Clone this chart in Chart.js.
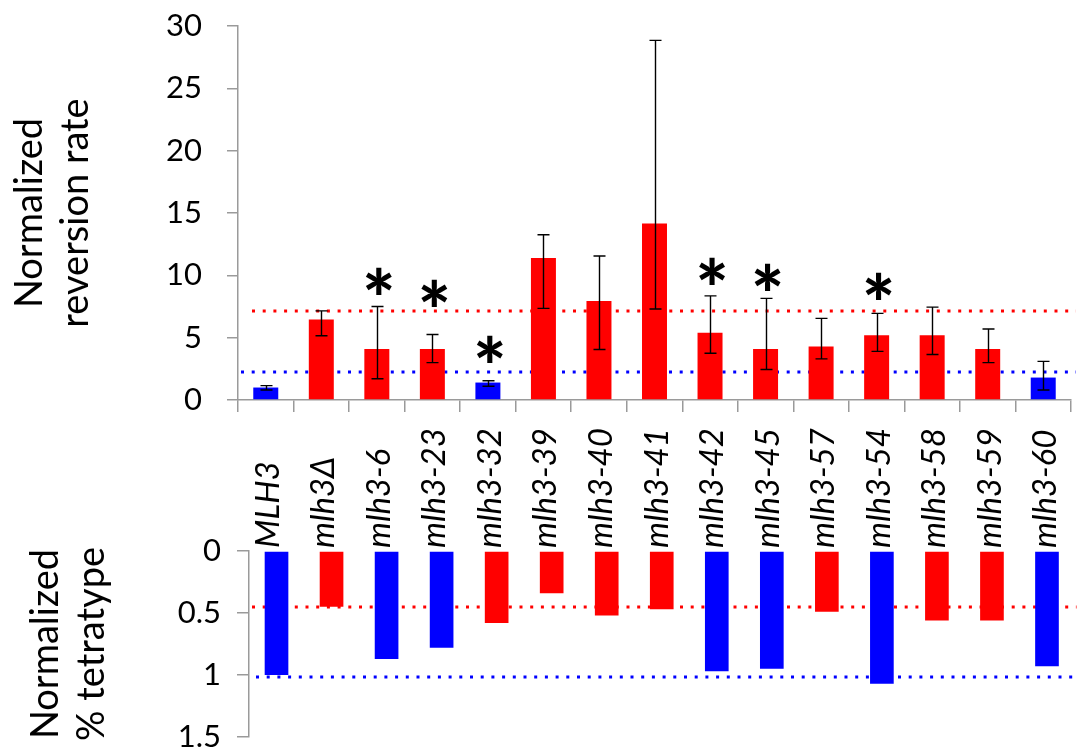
<!DOCTYPE html>
<html>
<head>
<meta charset="utf-8">
<title>MLH3 alleles: reversion rate and tetratype</title>
<script src="https://cdn.jsdelivr.net/npm/chart.js@4/dist/chart.umd.min.js"></script>
<style>
  html, body { margin: 0; padding: 0; background: #fff; overflow: hidden; }
  #page { position: relative; width: 1083px; height: 751px; overflow: hidden; background: #fff; }
  #topWrap { position: absolute; left: 0; top: 0; width: 1083px; height: 560px; }
  #botWrap { position: absolute; left: 0; top: 420px; width: 1083px; height: 360px; }
</style>
</head>
<body>
<div id="page">
  <div id="topWrap"><canvas id="revChart" width="1083" height="560"></canvas></div>
  <div id="botWrap"><canvas id="tetChart" width="1083" height="360"></canvas></div>
</div>
<script>
// Alleles, in plotting order
const alleles = ['MLH3', 'mlh3\u0394', 'mlh3-6', 'mlh3-23', 'mlh3-32', 'mlh3-39', 'mlh3-40',
  'mlh3-41', 'mlh3-42', 'mlh3-45', 'mlh3-57', 'mlh3-54', 'mlh3-58', 'mlh3-59', 'mlh3-60'];

// Normalized reversion rate with lower / upper error limits
const reversionRate = [1.0, 6.45, 4.1, 4.1, 1.4, 11.4, 7.95, 14.15, 5.4, 4.1, 4.3, 5.2, 5.2, 4.1, 1.8];
const reversionLow  = [0.8, 5.15, 1.7, 3.0, 1.1, 7.35, 4.05, 7.3, 3.75, 2.45, 3.3, 3.9, 3.65, 3.0, 0.8];
const reversionHigh = [1.15, 7.15, 7.5, 5.25, 1.55, 13.25, 11.55, 28.85, 8.35, 8.15, 6.55, 6.95, 7.45, 5.7, 3.1];

// Height of the significance star (in reversion-rate units), null where not significant
const significance = [null, null, 9.55, 8.6, 4.1, null, null, null, 10.35, 9.85, null, 9.15, null, null, null];

// Normalized % tetratype
const tetratype = [1.0, 0.45, 0.87, 0.78, 0.58, 0.34, 0.52, 0.47, 0.97, 0.95, 0.49, 1.07, 0.56, 0.56, 0.93];

// Phenotype class of each allele in each assay ('wt' = wild-type like, 'mut' = mutant like)
const mmrClass = ['wt', 'mut', 'mut', 'mut', 'wt', 'mut', 'mut', 'mut', 'mut', 'mut', 'mut', 'mut', 'mut', 'mut', 'wt'];
const crossoverClass = ['wt', 'mut', 'wt', 'wt', 'mut', 'mut', 'mut', 'mut', 'wt', 'wt', 'mut', 'wt', 'mut', 'mut', 'wt'];

// Reference levels (dotted lines)
const reversionRefMut = 7.14;
const reversionRefWt = 2.25;
const tetratypeRefMut = 0.45;
const tetratypeRefWt = 1.02;

// Axis ticks
const reversionTicks = { min: 0, max: 30, step: 5 };
const tetratypeTicks = { min: 0, max: 1.5, step: 0.5 };

const classColor = { wt: '#0000ff', mut: '#ff0000' };
const axisGray = '#9a9a9a';
const FONT = 'Lato, "Open Sans", "Liberation Sans", sans-serif';

function dottedLine(ctx, x0, x1, y, color) {
  ctx.save();
  ctx.strokeStyle = color;
  ctx.lineWidth = 3;
  ctx.setLineDash([3, 7.7]);
  ctx.beginPath();
  ctx.moveTo(x0, y);
  ctx.lineTo(x1, y);
  ctx.stroke();
  ctx.restore();
}

// Dotted reference lines behind the bars
const refLines = {
  id: 'refLines',
  beforeDatasetsDraw(chart, args, opts) {
    const { ctx, chartArea } = chart;
    const y = chart.scales.y;
    opts.lines.forEach(l => {
      dottedLine(ctx, chartArea.left + l.startInset, chartArea.right + l.endOverrun,
        Math.round(y.getPixelForValue(l.value)), l.color);
    });
  }
};

// Error bars and significance stars on the reversion chart
const errorBars = {
  id: 'errorBars',
  afterDatasetsDraw(chart) {
    const { ctx } = chart;
    const y = chart.scales.y;
    const meta = chart.getDatasetMeta(0);
    ctx.save();
    ctx.strokeStyle = '#000';
    ctx.lineWidth = 1.4;
    meta.data.forEach((bar, i) => {
      const x = Math.round(bar.x) + 0.5;
      const hi = y.getPixelForValue(reversionHigh[i]);
      const lo = y.getPixelForValue(reversionLow[i]);
      ctx.beginPath();
      ctx.moveTo(x, hi); ctx.lineTo(x, lo);
      ctx.moveTo(x - 6, hi); ctx.lineTo(x + 6, hi);
      ctx.moveTo(x - 6, lo); ctx.lineTo(x + 6, lo);
      ctx.stroke();
    });
    ctx.fillStyle = '#000';
    ctx.font = '900 78px ' + FONT;
    ctx.textAlign = 'center';
    ctx.textBaseline = 'alphabetic';
    const m = ctx.measureText('*');
    const glyphMid = (m.actualBoundingBoxAscent - m.actualBoundingBoxDescent) / 2;
    meta.data.forEach((bar, i) => {
      if (significance[i] === null) return;
      const cy = y.getPixelForValue(significance[i]);
      ctx.fillText('*', bar.x + 2, cy + glyphMid);
    });
    ctx.restore();
  }
};

// Allele names, rotated, standing below the reversion chart
const alleleLabels = {
  id: 'alleleLabels',
  afterDraw(chart, args, opts) {
    const { ctx } = chart;
    const xs = chart.scales.x;
    ctx.save();
    ctx.font = 'italic ' + opts.size + 'px ' + FONT;
    ctx.fillStyle = '#000';
    ctx.textAlign = 'left';
    ctx.textBaseline = 'alphabetic';
    const capHalf = ctx.measureText('h').actualBoundingBoxAscent / 2;
    alleles.forEach((lab, i) => {
      ctx.save();
      ctx.translate(xs.getPixelForValue(i) + 1 + capHalf, opts.startY);
      ctx.rotate(-Math.PI / 2);
      ctx.fillText(lab, 0, 0);
      ctx.restore();
    });
    ctx.restore();
  }
};

// The value axes keep the plot area exactly where the layout padding puts it
function fixVerticalAxis(width) {
  return function (scale) {
    scale.width = width;
    scale.paddingTop = 0;
    scale.paddingBottom = 0;
  };
}

Chart.defaults.font.family = FONT;
Chart.defaults.color = '#000';

new Chart(document.getElementById('revChart'), {
  type: 'bar',
  data: {
    labels: alleles,
    datasets: [{
      data: reversionRate,
      backgroundColor: mmrClass.map(c => classColor[c]),
      borderWidth: 0,
      categoryPercentage: 1,
      barPercentage: 0.45
    }]
  },
  options: {
    responsive: false,
    animation: false,
    events: [],
    layout: { autoPadding: false, padding: { left: 0, top: 26, right: 12, bottom: 148 } },
    plugins: {
      legend: { display: false },
      tooltip: { enabled: false },
      refLines: {
        lines: [
          { value: reversionRefMut, color: '#ff0000', startInset: 14, endOverrun: 5 },
          { value: reversionRefWt, color: '#0000ff', startInset: 3, endOverrun: 5 }
        ]
      },
      alleleLabels: { size: 33, startY: 548 }
    },
    scales: {
      x: {
        offset: true,
        ticks: { display: false },
        grid: { display: true, offset: true, drawOnChartArea: false, drawTicks: true, tickLength: 12, color: axisGray, lineWidth: 1.5 },
        border: { display: true, color: axisGray, width: 1.5 },
        afterFit(scale) { scale.height = 12; }
      },
      y: {
        min: reversionTicks.min,
        max: reversionTicks.max,
        ticks: { stepSize: reversionTicks.step, padding: 25, font: { size: 31 }, color: '#000' },
        grid: { drawOnChartArea: false, drawTicks: true, tickLength: 11, color: axisGray, lineWidth: 1.5 },
        border: { display: true, color: axisGray, width: 1.5 },
        title: {
          display: true,
          text: ['Normalized', 'reversion rate'],
          font: { size: 38, lineHeight: 1.2 },
          color: '#000',
          padding: { top: 7, bottom: 0 }
        },
        afterFit: fixVerticalAxis(238)
      }
    }
  },
  plugins: [refLines, errorBars, alleleLabels]
});

new Chart(document.getElementById('tetChart'), {
  type: 'bar',
  data: {
    labels: alleles,
    datasets: [{
      data: tetratype,
      backgroundColor: crossoverClass.map(c => classColor[c]),
      borderWidth: 0,
      categoryPercentage: 1,
      barPercentage: 0.43
    }]
  },
  options: {
    responsive: false,
    animation: false,
    events: [],
    layout: { autoPadding: false, padding: { left: 0, top: 131, right: 8.5, bottom: 43 } },
    plugins: {
      legend: { display: false },
      tooltip: { enabled: false },
      refLines: {
        lines: [
          { value: tetratypeRefMut, color: '#ff0000', startInset: 3, endOverrun: 2 },
          { value: tetratypeRefWt, color: '#0000ff', startInset: 7, endOverrun: 2 }
        ]
      }
    },
    scales: {
      x: {
        display: false,
        offset: true
      },
      y: {
        reverse: true,
        min: tetratypeTicks.min,
        max: tetratypeTicks.max,
        ticks: {
          stepSize: tetratypeTicks.step,
          padding: 16,
          font: { size: 31 },
          color: '#000',
          callback: v => String(v)
        },
        grid: { drawOnChartArea: false, drawTicks: true, tickLength: 12, color: axisGray, lineWidth: 1.5 },
        border: { display: true, color: axisGray, width: 1.5 },
        title: {
          display: true,
          text: ['Normalized', '% tetratype'],
          font: { size: 38, lineHeight: 1.2 },
          color: '#000',
          padding: { top: 23, bottom: 0 }
        },
        afterFit: fixVerticalAxis(249)
      }
    }
  },
  plugins: [refLines]
});
</script>
</body>
</html>
